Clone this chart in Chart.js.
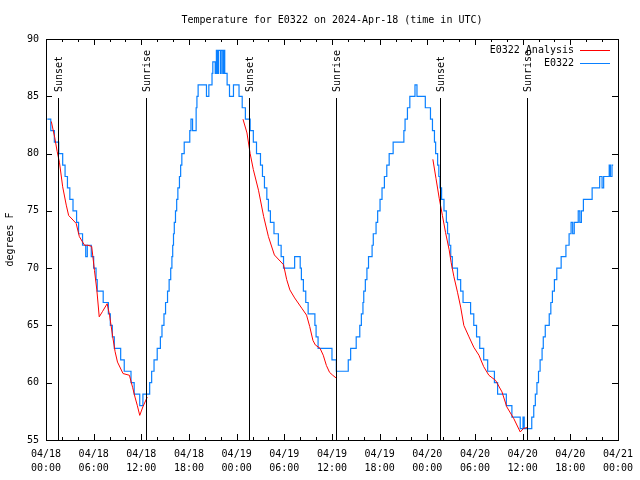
<!DOCTYPE html>
<html><head><meta charset="utf-8">
<script src="https://cdn.jsdelivr.net/npm/chart.js@4/dist/chart.umd.min.js"></script>
<style>html,body{margin:0;padding:0;background:#fff}</style>
</head><body>
<canvas id="c" width="640" height="480"></canvas>
<script>
// ---- data (hours since 2024-04-18 00:00 UTC) ----
const titleText = 'Temperature for E0322 on 2024-Apr-18 (time in UTC)';
const yTitle = 'degrees F';
const tickHours = [0,6,12,18,24,30,36,42,48,54,60,66,72];
const tickLabels = [
 ['04/18','00:00'],['04/18','06:00'],['04/18','12:00'],['04/18','18:00'],
 ['04/19','00:00'],['04/19','06:00'],['04/19','12:00'],['04/19','18:00'],
 ['04/20','00:00'],['04/20','06:00'],['04/20','12:00'],['04/20','18:00'],
 ['04/21','00:00']];
const yTicks = [55,60,65,70,75,80,85,90];
const sunHours = [1.5, 12.6, 25.53, 36.55, 49.56, 60.58];
const sunLabels = ['Sunset','Sunrise','Sunset','Sunrise','Sunset','Sunrise'];

// observed E0322 (step change times and values)
const obsHours = [0.17,0.6,1.05,1.6,2.1,2.4,2.7,3.0,3.4,3.85,4.1,4.6,5.0,5.2,5.7,6.0,6.3,6.45,7.2,7.85,8.1,8.35,8.6,9.4,9.85,10.7,11.1,11.8,12.2,
 13.05,13.3,13.6,14.0,14.4,14.6,14.85,15.05,15.3,15.5,15.7,15.85,15.95,16.05,16.15,16.3,16.45,16.6,16.8,16.95,17.1,17.4,18.1,18.25,18.45,18.9,19.0,19.15,
 20.2,20.5,20.9,21.0,21.3,21.45,21.6,21.7,21.95,22.05,22.25,22.35,22.5,22.8,23.1,23.6,24.3,24.7,25.1,25.7,26.1,26.5,27.0,27.25,27.5,27.8,28.0,
 28.25,28.7,29.25,29.6,29.9,31.3,32.0,32.15,32.4,32.7,33.0,33.85,34.0,34.25,36.0,36.55,38.05,38.35,39.05,39.5,39.7,39.9,40.0,40.2,40.4,40.6,41.05,41.2,
 41.55,41.75,42.05,42.3,42.6,42.9,43.2,43.7,45.05,45.2,45.5,45.8,46.45,46.7,47.75,48.4,48.65,48.9,49.05,49.3,49.45,49.6,49.8,50.1,50.4,50.55,50.75,50.95,
 51.15,51.8,52.2,52.5,53.45,53.85,54.2,54.6,55.1,55.6,56.45,56.85,57.95,58.65,59.7,60.05,60.2,61.15,61.4,61.6,61.8,62.0,62.2,62.45,62.6,62.85,63.35,63.55,
 63.75,64.0,64.3,64.85,65.45,65.85,66.1,66.3,66.5,67.0,67.2,67.4,67.65,68.75,69.7,70.0,70.2,70.9,71.05,71.25,71.4];
const obsTemps = [83,82,81,80,79,78,77,76,75,74,73,72,71,72,71,70,69,68,67,66,65,64,63,62,61,60,59,58,59,
 60,61,62,63,64,65,66,67,68,69,70,71,72,73,74,75,76,77,78,79,80,81,82,83,82,84,85,86,
 85,86,87,88,87,89,87,89,87,89,87,89,87,86,85,86,85,84,83,82,81,80,79,78,77,76,75,
 74,73,72,71,70,71,70,69,68,67,66,65,64,63,62,61,62,63,64,65,66,67,68,69,70,71,72,73,
 74,75,76,77,78,79,80,81,82,83,84,85,86,85,84,83,82,81,80,79,78,77,76,75,74,73,72,71,
 70,69,68,67,66,65,64,63,62,61,60,59,58,57,56,57,56,57,58,59,60,61,62,63,64,65,66,67,
 68,69,70,71,72,73,74,73,74,75,74,75,76,77,78,77,78,79,78,79,79];

// analysis E0322 (null separates the three runs)
const anaHours = [0.67,1.1,1.4,1.7,2.1,2.55,2.85,3.4,3.8,4.2,4.85,5.25,5.75,6.1,6.4,6.7,7.1,7.7,8.0,8.4,8.7,9.0,9.7,10.5,10.9,11.2,11.5,11.8,12.2,12.75,
 18.0,
 24.8,25.3,25.7,26.1,26.75,27.4,28.0,28.75,29.9,30.3,30.7,31.3,32.2,32.8,33.2,33.6,33.9,34.5,34.9,35.3,35.7,36.1,36.55,
 42.0,
 48.7,49.1,49.5,49.9,50.3,50.75,51.0,51.35,51.8,52.2,52.6,53.25,53.85,54.5,55.1,55.75,56.6,57.4,58.0,58.9,59.7,60.1,60.6];
const anaTemps = [82.8,81.4,80.2,79.2,77.1,75.5,74.6,74.2,73.9,72.75,72.0,72.0,71.9,69.8,68.1,65.75,66.2,66.9,65.9,64.0,62.7,61.8,60.8,60.65,59.6,58.75,58.0,57.15,57.9,58.75,
 null,
 83.0,81.8,80.0,78.6,76.8,74.5,72.75,71.15,70.3,69.0,68.1,67.4,66.5,65.9,64.9,63.7,63.3,63.0,62.4,61.5,60.9,60.65,60.4,
 null,
 79.5,77.8,76.1,74.6,73.1,71.6,70.5,69.25,67.9,66.6,65.0,64.0,63.1,62.4,61.4,60.65,60.2,59.2,57.9,56.85,55.7,56.0,56.1];

const FONT = 'DejaVu Sans Mono';
const RED = '#ff0000', BLUE = '#0a80ff';

const decor = {
  id: 'decor',
  afterDatasetsDraw(chart) {
    const ctx = chart.ctx, a = chart.chartArea, xs = chart.scales.x, ys = chart.scales.y;
    const L = Math.round(a.left), R = Math.round(a.right), T = Math.round(a.top), B = Math.round(a.bottom);
    ctx.save();
    ctx.strokeStyle = '#000'; ctx.lineWidth = 1;
    // frame
    ctx.strokeRect(L + 0.5, T + 0.5, R - L, B - T);
    ctx.beginPath();
    // x major and minor ticks (every 2 h)
    for (let h = 0; h <= 72; h += 2) {
      const px = Math.round(xs.getPixelForValue(h)) + 0.5;
      const len = (h % 6 === 0) ? 6 : 3;
      ctx.moveTo(px, B); ctx.lineTo(px, B - len);
      ctx.moveTo(px, T); ctx.lineTo(px, T + len);
    }
    yTicks.forEach(v => {
      const py = Math.round(ys.getPixelForValue(v)) + 0.5;
      ctx.moveTo(L, py); ctx.lineTo(L + 6, py);
      ctx.moveTo(R, py); ctx.lineTo(R - 6, py);
    });
    ctx.stroke();
    // sunrise / sunset lines
    ctx.beginPath();
    sunHours.forEach(h => {
      const px = Math.round(xs.getPixelForValue(h)) + 0.5;
      ctx.moveTo(px, 98); ctx.lineTo(px, B);
    });
    ctx.stroke();
    ctx.fillStyle = '#000';
    ctx.font = '10px "' + FONT + '"';
    sunHours.forEach((h, i) => {
      const px = Math.round(xs.getPixelForValue(h)) + 1;
      ctx.save();
      ctx.translate(px, 92);
      ctx.rotate(-Math.PI / 2);
      ctx.textAlign = 'left'; ctx.textBaseline = 'middle';
      ctx.fillText(sunLabels[i], 0, 0);
      ctx.restore();
    });
    // title
    ctx.textAlign = 'center'; ctx.textBaseline = 'middle';
    ctx.fillText(titleText, (L + R) / 2, 20);
    // legend
    const ds = chart.data.datasets;
    [[ds[0].label, RED, 50], [ds[1].label, BLUE, 63]].forEach(([lab, col, y]) => {
      ctx.fillStyle = '#000';
      ctx.textAlign = 'right'; ctx.textBaseline = 'middle';
      ctx.fillText(lab, 574, y);
      ctx.strokeStyle = col; ctx.lineWidth = 1;
      ctx.beginPath(); ctx.moveTo(580, y + 0.5); ctx.lineTo(610, y + 0.5); ctx.stroke();
    });
    ctx.restore();
  }
};

new Chart(document.getElementById('c'), {
  type: 'line',
  data: {
    datasets: [
      { label: 'E0322 Analysis', data: anaHours.map((h, i) => ({ x: h, y: anaTemps[i] })),
        borderColor: RED, borderWidth: 1, pointRadius: 0, spanGaps: false, tension: 0 },
      { label: 'E0322', data: obsHours.map((h, i) => ({ x: h, y: obsTemps[i] })),
        borderColor: BLUE, borderWidth: 1.2, pointRadius: 0, stepped: true, tension: 0 }
    ]
  },
  options: {
    responsive: false, animation: false, devicePixelRatio: 1,
    layout: { padding: { top: 39, right: 18, left: 0, bottom: 0 } },
    plugins: { legend: { display: false }, tooltip: { enabled: false }, title: { display: false } },
    scales: {
      x: {
        type: 'linear', min: 0, max: 72,
        afterBuildTicks: s => { s.ticks = tickHours.map(v => ({ value: v })); },
        afterFit: s => { s.height = 40; },
        ticks: { autoSkip: false, maxRotation: 0, minRotation: 0, padding: 7, color: '#000',
          font: { family: FONT, size: 10, lineHeight: 1.4 },
          callback: (v, i) => tickLabels[i] },
        grid: { display: false, drawTicks: false },
        border: { display: false }
      },
      y: {
        min: 55, max: 90,
        afterBuildTicks: s => { s.ticks = yTicks.map(v => ({ value: v })); },
        afterFit: s => { s.width = 46; },
        ticks: { padding: 7, color: '#000', font: { family: FONT, size: 10 } },
        title: { display: true, text: yTitle, color: '#000', font: { family: FONT, size: 10 }, padding: { top: 4, bottom: 0 } },
        grid: { display: false, drawTicks: false },
        border: { display: false }
      }
    }
  },
  plugins: [decor]
});
</script>
</body></html>
